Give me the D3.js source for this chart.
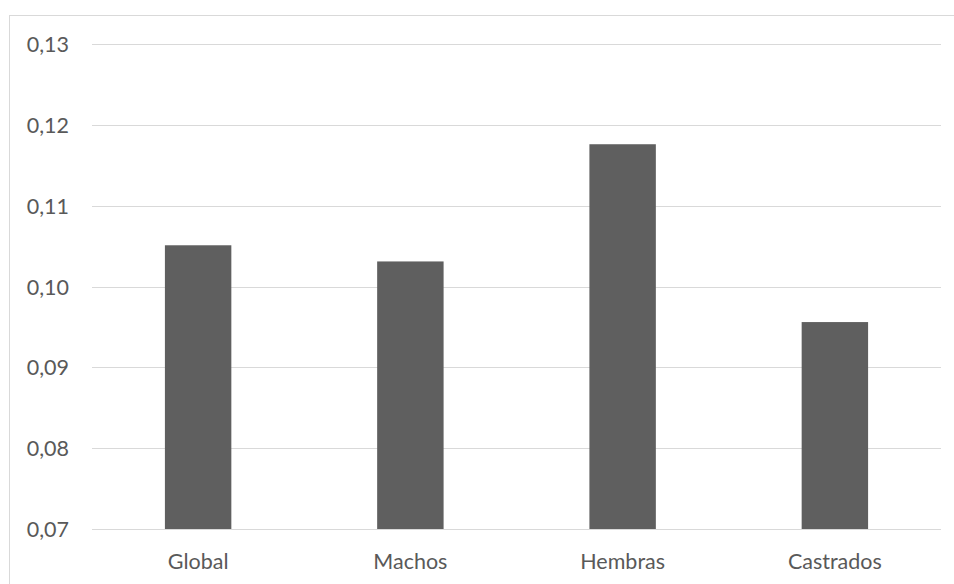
<!DOCTYPE html>
<html>
<head>
<meta charset="utf-8">
<script src="https://cdn.jsdelivr.net/npm/d3@7"></script>
<style>
  html, body { margin: 0; padding: 0; background: #fff; }
  svg { display: block; }
  text { font-family: Lato, "Open Sans", sans-serif; fill: #595959; }
</style>
</head>
<body>
<svg id="chart" width="954" height="584"></svg>
<script>
// Categories and values of the bar series
const categories = ["Global", "Machos", "Hembras", "Castrados"];
const values = [0.1051, 0.1031, 0.1176, 0.0956];
// Y axis ticks
const yTicks = [0.07, 0.08, 0.09, 0.10, 0.11, 0.12, 0.13];

const W = 954, H = 584;
const margin = { left: 92, right: 13, top: 44, bottom: 55 };
const svg = d3.select("#chart");

// Chart frame
svg.append("rect")
  .attr("x", 9.5).attr("y", 15.5)
  .attr("width", W + 10).attr("height", H + 10)
  .attr("fill", "none").attr("stroke", "#d9d9d9").attr("stroke-width", 1);

const x = d3.scaleBand()
  .domain(categories)
  .range([margin.left, W - margin.right])
  .paddingInner(0.687)
  .paddingOuter(0.3435);

const y = d3.scaleLinear()
  .domain([0.07, 0.13])
  .range([H - margin.bottom, margin.top]);

const fmt = d => d3.format(".2f")(d).replace(".", ",");

// Gridlines
svg.append("g")
  .selectAll("line")
  .data(yTicks)
  .join("line")
  .attr("x1", margin.left).attr("x2", W - margin.right)
  .attr("y1", d => Math.round(y(d)) + 0.5).attr("y2", d => Math.round(y(d)) + 0.5)
  .attr("stroke", "#d9d9d9").attr("stroke-width", 1);

// Y axis labels
svg.append("g")
  .selectAll("text")
  .data(yTicks)
  .join("text")
  .attr("x", 69)
  .attr("y", d => y(d) + 8)
  .attr("text-anchor", "end")
  .attr("font-size", 21.5)
  .text(fmt);

// Bars
svg.append("g")
  .selectAll("rect")
  .data(categories)
  .join("rect")
  .attr("x", d => x(d))
  .attr("width", x.bandwidth())
  .attr("y", (d, i) => y(values[i]))
  .attr("height", (d, i) => y(0.07) - y(values[i]))
  .attr("fill", "#5f5f5f");

// Category labels
svg.append("g")
  .selectAll("text")
  .data(categories)
  .join("text")
  .attr("x", d => x(d) + x.bandwidth() / 2)
  .attr("y", 569)
  .attr("text-anchor", "middle")
  .attr("font-size", 21.5)
  .text(d => d);
</script>
</body>
</html>
